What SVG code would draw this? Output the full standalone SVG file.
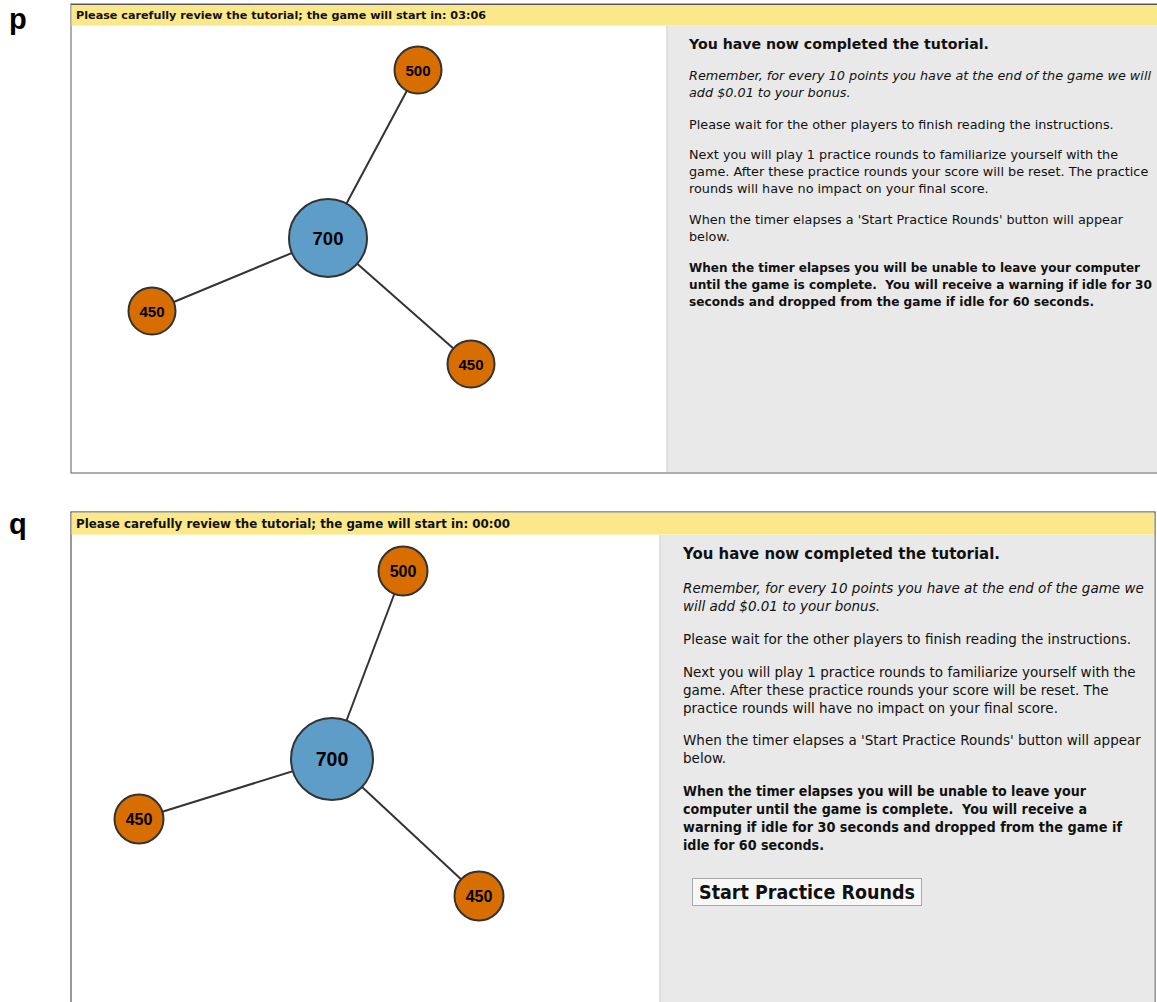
<svg xmlns="http://www.w3.org/2000/svg" width="1157" height="1002" viewBox="0 0 1157 1002">
<style>
.lbl{font-family:"Liberation Sans",Arial,sans-serif;font-weight:bold;font-size:29px;fill:#000}
.banner{fill:#fbe88a}
.bt{font-family:"DejaVu Sans",sans-serif;font-weight:bold;fill:#111}
.side{fill:#e9e9e9}
.tx{font-family:"DejaVu Sans",sans-serif;fill:#111}
.it{font-style:italic}
.b{font-weight:bold}
.edge{stroke:#333;stroke-width:2}
.o{fill:#d96e00;stroke:#333;stroke-width:2}
.c{fill:#5e9dc8;stroke:#333;stroke-width:2}
.nl{font-family:"Liberation Sans",Arial,sans-serif;font-weight:bold;fill:#000;text-anchor:middle}
</style>
<rect x="0" y="0" width="1157" height="1002" fill="#fff"/>

<!-- Panel p -->
<g id="panel-p">
  <text class="lbl" x="9" y="29">p</text>
  <rect x="71" y="4" width="1090" height="469" fill="#fff" stroke="#777" stroke-width="1.2"/>
  <rect class="banner" x="71.6" y="4.6" width="1090" height="21"/>
  <line x1="71" y1="4.5" x2="1157" y2="4.5" stroke="#555" stroke-width="1"/>
  <text class="bt" x="76" y="19" font-size="11" textLength="410" lengthAdjust="spacingAndGlyphs">Please carefully review the tutorial; the game will start in: 03:06</text>
  <rect class="side" x="667" y="26" width="490" height="446"/>
  <line x1="667" y1="26" x2="667" y2="472" stroke="#dadada" stroke-width="1.5"/>
  <g class="tx" font-size="12.8">
    <text class="b" x="689" y="49" font-size="14.5" textLength="300" lengthAdjust="spacingAndGlyphs">You have now completed the tutorial.</text>
    <text class="it" x="689" y="80">Remember, for every 10 points you have at the end of the game we will</text>
    <text class="it" x="689" y="97">add $0.01 to your bonus.</text>
    <text x="689" y="129">Please wait for the other players to finish reading the instructions.</text>
    <text x="689" y="159">Next you will play 1 practice rounds to familiarize yourself with the</text>
    <text x="689" y="176">game. After these practice rounds your score will be reset. The practice</text>
    <text x="689" y="193">rounds will have no impact on your final score.</text>
    <text x="689" y="224">When the timer elapses a 'Start Practice Rounds' button will appear</text>
    <text x="689" y="241">below.</text>
    <text class="b" x="689" y="272" font-size="12" textLength="451" lengthAdjust="spacingAndGlyphs">When the timer elapses you will be unable to leave your computer</text>
    <text class="b" x="689" y="289" font-size="12" textLength="463" lengthAdjust="spacingAndGlyphs">until the game is complete.&#160; You will receive a warning if idle for 30</text>
    <text class="b" x="689" y="306" font-size="12.4" textLength="405" lengthAdjust="spacingAndGlyphs">seconds and dropped from the game if idle for 60 seconds.</text>
  </g>
</g>

<g id="connectors-p">
  <line class="edge" x1="328" y1="238" x2="418" y2="70"/>
  <line class="edge" x1="328" y1="238" x2="152" y2="311"/>
  <line class="edge" x1="328" y1="238" x2="471" y2="364"/>
</g>
<g id="p-center"><circle class="c" cx="328" cy="238" r="39"/><text class="nl" x="328" y="244.5" font-size="18.5">700</text></g>
<g id="p-top"><circle class="o" cx="418" cy="70" r="23.5"/><text class="nl" x="418" y="75.5" font-size="15">500</text></g>
<g id="p-left"><circle class="o" cx="152" cy="311" r="23.5"/><text class="nl" x="152" y="316.5" font-size="15">450</text></g>
<g id="p-right"><circle class="o" cx="471" cy="364" r="23.5"/><text class="nl" x="471" y="369.5" font-size="15">450</text></g>

<!-- Panel q -->
<g id="panel-q">
  <text class="lbl" x="9" y="534">q</text>
  <rect x="71" y="512" width="1084" height="500" fill="#fff" stroke="#555" stroke-width="1.2"/>
  <rect class="banner" x="71.6" y="512.6" width="1082.8" height="22"/>
  <text class="bt" x="76" y="528" font-size="11.5" textLength="434" lengthAdjust="spacingAndGlyphs">Please carefully review the tutorial; the game will start in: 00:00</text>
  <rect class="side" x="660" y="535" width="494.4" height="470"/>
  <line x1="660" y1="535" x2="660" y2="1002" stroke="#dadada" stroke-width="1.5"/>
  <g class="tx" font-size="13.5">
    <text class="b" x="683" y="559" font-size="15.2" textLength="317" lengthAdjust="spacingAndGlyphs">You have now completed the tutorial.</text>
    <text class="it" x="683" y="593">Remember, for every 10 points you have at the end of the game we</text>
    <text class="it" x="683" y="611">will add $0.01 to your bonus.</text>
    <text x="683" y="644">Please wait for the other players to finish reading the instructions.</text>
    <text x="683" y="677">Next you will play 1 practice rounds to familiarize yourself with the</text>
    <text x="683" y="695">game. After these practice rounds your score will be reset. The</text>
    <text x="683" y="713">practice rounds will have no impact on your final score.</text>
    <text x="683" y="745">When the timer elapses a 'Start Practice Rounds' button will appear</text>
    <text x="683" y="763">below.</text>
    <text class="b" x="683" y="796" textLength="403" lengthAdjust="spacingAndGlyphs">When the timer elapses you will be unable to leave your</text>
    <text class="b" x="683" y="814" textLength="404" lengthAdjust="spacingAndGlyphs">computer until the game is complete.&#160; You will receive a</text>
    <text class="b" x="683" y="832" textLength="439" lengthAdjust="spacingAndGlyphs">warning if idle for 30 seconds and dropped from the game if</text>
    <text class="b" x="683" y="850" textLength="141" lengthAdjust="spacingAndGlyphs">idle for 60 seconds.</text>
  </g>
  <g id="start-button">
    <rect x="692.5" y="878.5" width="229" height="27" fill="#f7f7f7" stroke="#a8a8a8" stroke-width="1"/>
    <text class="tx b" x="699" y="899" font-size="19" fill="#000" textLength="216" lengthAdjust="spacingAndGlyphs">Start Practice Rounds</text>
  </g>
</g>

<g id="connectors-q">
  <line class="edge" x1="332" y1="759" x2="403" y2="571"/>
  <line class="edge" x1="332" y1="759" x2="139" y2="819"/>
  <line class="edge" x1="332" y1="759" x2="479" y2="896"/>
</g>
<g id="q-center"><circle class="c" cx="332" cy="759" r="41"/><text class="nl" x="332" y="766" font-size="19.5">700</text></g>
<g id="q-top"><circle class="o" cx="403" cy="571" r="24.5"/><text class="nl" x="403" y="576.5" font-size="16">500</text></g>
<g id="q-left"><circle class="o" cx="139" cy="819" r="24.5"/><text class="nl" x="139" y="824.5" font-size="16">450</text></g>
<g id="q-right"><circle class="o" cx="479" cy="896" r="24.5"/><text class="nl" x="479" y="901.5" font-size="16">450</text></g>
</svg>
